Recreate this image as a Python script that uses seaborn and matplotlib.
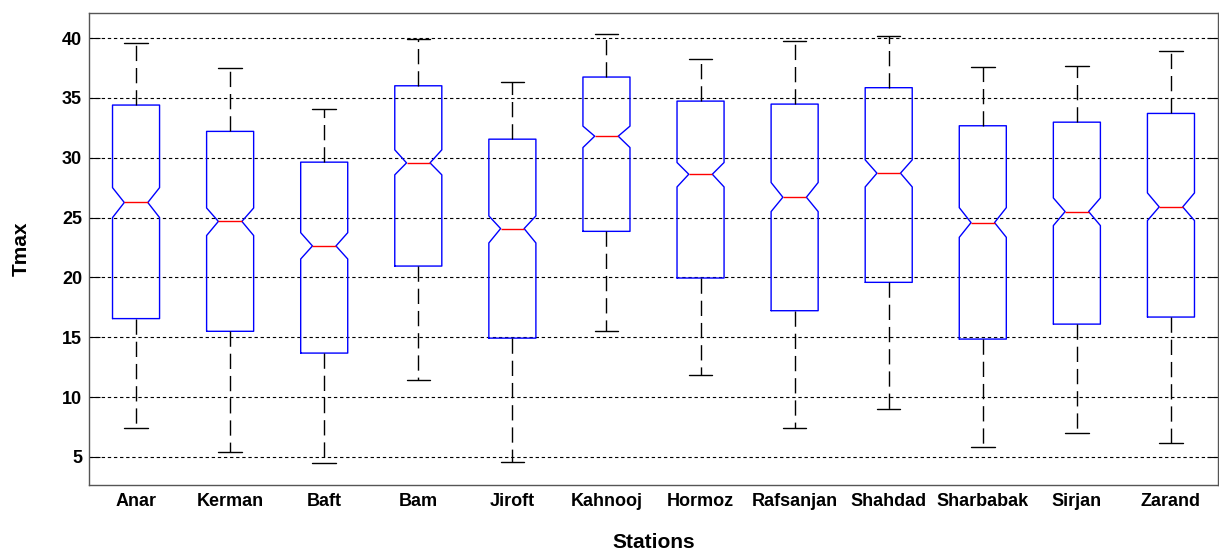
import matplotlib
matplotlib.use("Agg")
import matplotlib.pyplot as plt
import seaborn as sns

stations = ["Anar", "Kerman", "Baft", "Bam", "Jiroft", "Kahnooj", "Hormoz",
            "Rafsanjan", "Shahdad", "Sharbabak", "Sirjan", "Zarand"]
whisker_low = [7.38, 5.40, 4.53, 11.47, 4.61, 15.54, 11.86, 7.40, 9.02, 5.84, 7.01, 6.20]
q1 = [16.56, 15.50, 13.68, 20.95, 14.93, 23.85, 19.95, 17.22, 19.59, 14.85, 16.10, 16.69]
notch_low = [25.00, 23.50, 21.54, 28.57, 22.88, 30.85, 27.56, 25.50, 27.56, 23.35, 24.33, 24.75]
median = [26.26, 24.68, 22.63, 29.57, 24.08, 31.80, 28.62, 26.70, 28.71, 24.58, 25.50, 25.89]
notch_high = [27.50, 25.80, 23.74, 30.66, 25.14, 32.64, 29.60, 27.93, 29.82, 25.83, 26.64, 27.06]
q3 = [34.40, 32.20, 29.63, 36.01, 31.55, 36.74, 34.73, 34.48, 35.85, 32.67, 32.97, 33.70]
whisker_high = [39.60, 37.50, 34.03, 39.92, 36.35, 40.31, 38.24, 39.75, 40.17, 37.60, 37.69, 38.88]
y_ticks = [5, 10, 15, 20, 25, 30, 35, 40]

sns.set_theme(style="white")
plt.rcParams['font.family'] = ['Liberation Sans', 'DejaVu Sans']

fig = plt.figure(figsize=(12.19, 5.51), dpi=100)
ax = fig.add_axes([89 / 1219, 1 - 485 / 551, 1129 / 1219, 472 / 551])

stats = []
for i, s in enumerate(stations):
    stats.append(dict(label=s, whislo=whisker_low[i], q1=q1[i], med=median[i],
                      q3=q3[i], whishi=whisker_high[i], cilo=notch_low[i],
                      cihi=notch_high[i], fliers=[]))

positions = list(range(1, len(stations) + 1))
ax.bxp(stats, positions=positions, widths=0.5, shownotches=True, showfliers=False,
       boxprops=dict(color="blue", linewidth=1.0),
       medianprops=dict(color="red", linewidth=1.0),
       whiskerprops=dict(color="black", linewidth=1.0, linestyle=(0, (11, 5))),
       capprops=dict(color="black", linewidth=1.0),
       manage_ticks=False, zorder=3)

ax.set_xlim(0.5, len(stations) + 0.5)
ax.set_ylim(2.66, 42.09)
ax.set_yticks(y_ticks)
ax.set_yticklabels([str(t) for t in y_ticks], fontsize=13, fontweight="bold")
ax.set_xticks(positions)
ax.set_xticklabels(stations, fontsize=13, fontweight="bold")

ax.yaxis.grid(True, linestyle=(0, (3, 2.5)), color="black", linewidth=0.8, zorder=1)
ax.xaxis.grid(False)
ax.set_axisbelow(True)

for sp in ax.spines.values():
    sp.set_color("#555555")
    sp.set_linewidth(1.0)
    sp.set_visible(True)

ax.tick_params(axis="y", which="major", direction="in", length=8, width=0.8,
               color="black", left=True, right=True, pad=5, labelcolor="black")
ax.tick_params(axis="x", which="major", length=0, pad=6, labelcolor="black")

ax.set_ylabel("Tmax", fontsize=15, fontweight="bold", color="black")
ax.yaxis.set_label_coords(-0.052, 0.5)
ax.set_xlabel("Stations", fontsize=15, fontweight="bold", color="black")
ax.xaxis.set_label_coords(0.5, -0.101)

fig.savefig("out.png", dpi=100)
